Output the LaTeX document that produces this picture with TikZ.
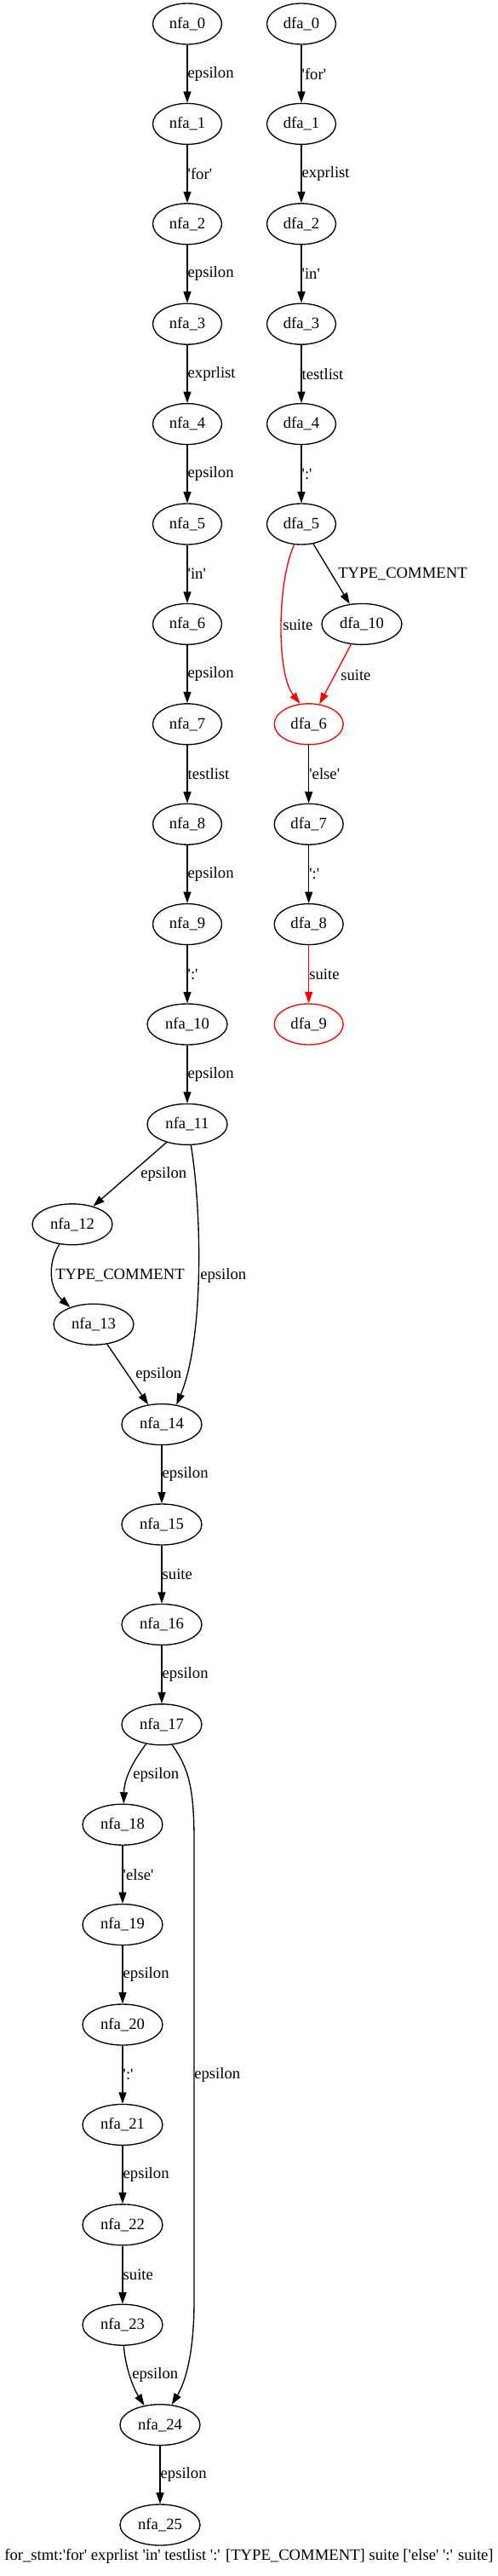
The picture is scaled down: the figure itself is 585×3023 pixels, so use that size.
\documentclass[tikz,border=0pt]{standalone}
\usepackage{fontspec}
\setmainfont{Liberation Serif}[Ligatures=TeXOff]
\usetikzlibrary{shapes.geometric, arrows.meta}

\begin{document}
\begin{tikzpicture}[x=0.75pt, y=-0.75pt,
    every node/.style={font=\fontsize{14}{16}\selectfont},
    state/.style={draw, ellipse, line width=1pt, minimum width=60.75pt, minimum height=36pt, inner sep=0pt},
    statew/.style={state, minimum width=70.5pt},
    accept/.style={draw=red},
    trans/.style={-{Triangle[length=10pt, width=6.75pt]}, line width=1pt},
    lbl/.style={inner sep=0pt, text=black}]
    \useasboundingbox (0,0) rectangle (585,3023);

    % nfa states
    \node [state] (n0) at (220,28) {nfa\_0};
    \node [state] (n1) at (220,145.4) {nfa\_1};
    \node [state] (n2) at (220,262.8) {nfa\_2};
    \node [state] (n3) at (220,380.2) {nfa\_3};
    \node [state] (n4) at (220,497.6) {nfa\_4};
    \node [state] (n5) at (220,615) {nfa\_5};
    \node [state] (n6) at (220,732.4) {nfa\_6};
    \node [state] (n7) at (220,849.8) {nfa\_7};
    \node [state] (n8) at (220,967.2) {nfa\_8};
    \node [state] (n9) at (220,1084.6) {nfa\_9};
    \node [statew] (n10) at (220,1202) {nfa\_10};
    \node [statew] (n11) at (220,1319.4) {nfa\_11};
    \node [statew] (n12) at (85,1436.8) {nfa\_12};
    \node [statew] (n13) at (110,1554.2) {nfa\_13};
    \node [statew] (n14) at (190,1671.6) {nfa\_14};
    \node [statew] (n15) at (190,1789) {nfa\_15};
    \node [statew] (n16) at (190,1906.4) {nfa\_16};
    \node [statew] (n17) at (190,2023.8) {nfa\_17};
    \node [statew] (n18) at (144,2141.2) {nfa\_18};
    \node [statew] (n19) at (144,2258.6) {nfa\_19};
    \node [statew] (n20) at (144,2376) {nfa\_20};
    \node [statew] (n21) at (144,2493.4) {nfa\_21};
    \node [statew] (n22) at (144,2610.8) {nfa\_22};
    \node [statew] (n23) at (144,2728.2) {nfa\_23};
    \node [statew] (n24) at (188,2845.6) {nfa\_24};
    \node [statew] (n25) at (188,2963) {nfa\_25};

    % dfa states
    \node [state] (d0) at (354,28) {dfa\_0};
    \node [state] (d1) at (354,145.4) {dfa\_1};
    \node [state] (d2) at (354,262.8) {dfa\_2};
    \node [state] (d3) at (354,380.2) {dfa\_3};
    \node [state] (d4) at (354,497.6) {dfa\_4};
    \node [state] (d5) at (354,615) {dfa\_5};
    \node [statew] (d10) at (425,732.4) {dfa\_10};
    \node [state, accept] (d6) at (362.7,849.8) {dfa\_6};
    \node [state] (d7) at (362.7,967.2) {dfa\_7};
    \node [state] (d8) at (362.7,1084.6) {dfa\_8};
    \node [state, accept] (d9) at (362.7,1202) {dfa\_9};

    % nfa transitions
    \draw [trans] (n0) -- (n1) node [lbl, midway, right] (e0) {epsilon};
    \draw [trans] (n1) -- (n2) node [lbl, midway, right] (e1) {'for'};
    \draw [trans] (n2) -- (n3) node [lbl, midway, right] (e2) {epsilon};
    \draw [trans] (n3) -- (n4) node [lbl, midway, right] (e3) {exprlist};
    \draw [trans] (n4) -- (n5) node [lbl, midway, right] (e4) {epsilon};
    \draw [trans] (n5) -- (n6) node [lbl, midway, right] (e5) {'in'};
    \draw [trans] (n6) -- (n7) node [lbl, midway, right] (e6) {epsilon};
    \draw [trans] (n7) -- (n8) node [lbl, midway, right] (e7) {testlist};
    \draw [trans] (n8) -- (n9) node [lbl, midway, right] (e8) {epsilon};
    \draw [trans] (n9) -- (n10) node [lbl, midway, right] (e9) {':'};
    \draw [trans] (n10) -- (n11) node [lbl, midway, right] (e10) {epsilon};
    \draw [trans] (n11) -- (n12);
    \draw [trans] (n11.-80) .. controls (237,1420) and (240,1570) .. (n14.53);
    \draw [trans] (n12.-123) .. controls (57,1480) and (56,1510) .. (n13.144);
    \draw [trans] (n13) -- (n14);
    \draw [trans] (n14) -- (n15) node [lbl, midway, right] (e14) {epsilon};
    \draw [trans] (n15) -- (n16) node [lbl, midway, right] (e15) {suite};
    \draw [trans] (n16) -- (n17) node [lbl, midway, right] (e16) {epsilon};
    \draw [trans] (n17.-129) .. controls (158,2065) and (146,2085) .. (n18.87);
    \draw [trans] (n17.-63) .. controls (222,2075) and (228,2100) .. (228,2160)
        -- (228,2700) .. controls (228,2770) and (215,2800) .. (n24.60);
    \draw [trans] (n18) -- (n19) node [lbl, midway, right] (e18) {'else'};
    \draw [trans] (n19) -- (n20) node [lbl, midway, right] (e19) {epsilon};
    \draw [trans] (n20) -- (n21) node [lbl, midway, right] (e20) {':'};
    \draw [trans] (n21) -- (n22) node [lbl, midway, right] (e21) {epsilon};
    \draw [trans] (n22) -- (n23) node [lbl, midway, right] (e22) {suite};
    \draw [trans] (n23.-87) .. controls (147,2775) and (155,2800) .. (n24.129);
    \draw [trans] (n24) -- (n25) node [lbl, midway, right] (e24) {epsilon};

    \node [lbl, anchor=west] (e11a) at (165,1378) {epsilon};
    \node [lbl, anchor=west] (e11b) at (235,1497) {epsilon};
    \node [lbl, anchor=west] (e12) at (65,1497) {TYPE\_COMMENT};
    \node [lbl, anchor=west] (e13) at (159,1613) {epsilon};
    \node [lbl, anchor=west] (e17a) at (156,2083) {epsilon};
    \node [lbl, anchor=west] (e17b) at (228,2435) {epsilon};
    \node [lbl, anchor=west] (e23) at (155,2787) {epsilon};

    % dfa transitions
    \draw [trans] (d0) -- (d1) node [lbl, midway, right] (f0) {'for'};
    \draw [trans] (d1) -- (d2) node [lbl, midway, right] (f1) {exprlist};
    \draw [trans] (d2) -- (d3) node [lbl, midway, right] (f2) {'in'};
    \draw [trans] (d3) -- (d4) node [lbl, midway, right] (f3) {testlist};
    \draw [trans] (d4) -- (d5) node [lbl, midway, right] (f4) {':'};
    \draw [trans] (d5) -- (d10);
    \draw [trans, red] (d5.-109) .. controls (326,680) and (324,790) .. (d6.113);
    \draw [trans, red] (d10) -- (d6);
    \draw [trans] (d6) -- (d7) node [lbl, midway, right] (f6) {'else'};
    \draw [trans] (d7) -- (d8) node [lbl, midway, right] (f7) {':'};
    \draw [trans, red] (d8) -- (d9) node [lbl, midway, right] (f8) {suite};

    \node [lbl, anchor=west] (f5a) at (397,674) {TYPE\_COMMENT};
    \node [lbl, anchor=west] (f5b) at (332,733) {suite};
    \node [lbl, anchor=west] (f10) at (400,792) {suite};

    \node (title) at (292.5,3000) {for\_stmt:'for' exprlist 'in' testlist ':' [TYPE\_COMMENT] suite ['else' ':' suite]};

\end{tikzpicture}
\end{document}
